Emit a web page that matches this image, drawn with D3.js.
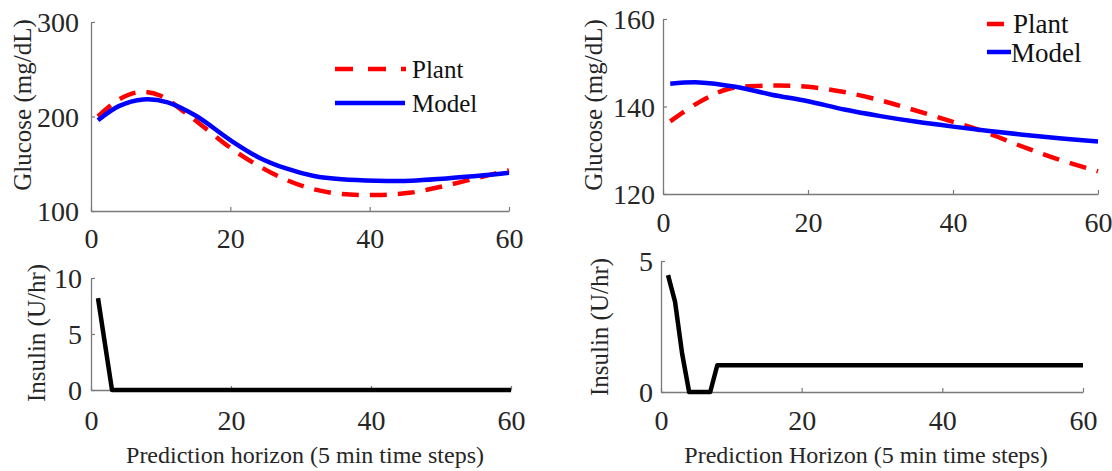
<!DOCTYPE html>
<html>
<head>
<meta charset="utf-8">
<script src="https://cdn.jsdelivr.net/npm/d3@7"></script>
<style>
  body { margin: 0; background: #fff; }
  svg text { font-family: "Liberation Serif", "Times New Roman", serif; }
</style>
</head>
<body>
<svg></svg>
<script>
// size of the page
var svgWidth = 1112;
var svgHeight = 471;
var svg = d3.select("svg")
            .attr("width", svgWidth)
            .attr("height", svgHeight);

// x ticks shared by all panels
var xTicks = [0, 20, 40, 60];

// left glucose panel
var leftPlantSteps  = [1, 4, 7, 10, 13, 16, 20, 24, 28, 32, 36, 41, 46, 51, 56, 60];
var leftPlantValues = [200, 218, 226, 222, 207, 190, 167, 148, 133, 123, 118, 117, 119.5, 127, 136, 143];
var leftModelSteps  = [1, 4, 7.5, 11, 15, 20, 24, 28, 32, 36, 41, 46, 51, 56, 60];
var leftModelValues = [196, 211, 218, 215, 201, 175, 157, 145, 137, 133.5, 132, 132, 134.5, 137.5, 140.5];
var leftGlucoseTicks = [100, 200, 300];

// right glucose panel
var rightPlantSteps  = [1, 5, 9, 15, 20, 25, 30, 34, 39, 44, 49, 54, 60];
var rightPlantValues = [136.6, 141, 144, 144.8, 144.5, 143.3, 141.4, 139.5, 137, 134.4, 131.2, 128.2, 125.2];
var rightModelSteps  = [1, 5, 10, 15, 20, 25, 30, 35, 40, 45, 50, 55, 60];
var rightModelValues = [145.2, 145.5, 144.5, 142.7, 141.2, 139.3, 137.8, 136.5, 135.4, 134.4, 133.5, 132.7, 132];
var rightGlucoseTicks = [120, 140, 160];

// insulin panels
var leftInsulinSteps  = [1, 2, 3, 60];
var leftInsulinValues = [8.2, 4.1, 0, 0];
var leftInsulinTicks  = [0, 5, 10];
var rightInsulinSteps  = [1, 2, 3, 4, 7, 8, 60];
var rightInsulinValues = [4.46, 3.44, 1.47, 0, 0, 1.02, 1.02];
var rightInsulinTicks  = [0, 5];

var legendNames = ["Plant", "Model"];

function zipPoints(steps, values) {
  return steps.map(function(s, i) { return [s, values[i]]; });
}

// draws one panel: axes, lines
function drawPanel(p) {
  var x = d3.scaleLinear().domain([0, 60]).range([p.left, p.right]);
  var y = d3.scaleLinear().domain(p.yDomain).range([p.bottom, p.top]);

  var g = svg.append("g");

  var xAxis = g.append("g")
     .attr("transform", "translate(0," + p.bottom + ")")
     .call(d3.axisBottom(x).tickValues(xTicks).tickFormat(d3.format("d"))
             .tickSizeInner(-4).tickSizeOuter(0).tickPadding(p.xPad));
  var yAxis = g.append("g")
     .attr("transform", "translate(" + p.left + ",0)")
     .call(d3.axisLeft(y).tickValues(p.yTicks).tickFormat(d3.format("d"))
             .tickSizeInner(-4).tickSizeOuter(0).tickPadding(p.yPad));

  [xAxis, yAxis].forEach(function(a) {
    a.attr("font-family", "Liberation Serif").attr("font-size", 28);
    a.select(".domain").attr("stroke", "#7a7a7a").attr("stroke-width", 1.3);
    a.selectAll(".tick line").attr("stroke", "#7a7a7a").attr("stroke-width", 1.2);
    a.selectAll(".tick text").attr("fill", "#262626");
  });
  yAxis.selectAll(".tick text").attr("dy", "0.34em");

  p.series.forEach(function(s) {
    var line = d3.line()
                 .x(function(d) { return x(d[0]); })
                 .y(function(d) { return y(d[1]); })
                 .curve(s.curve);
    g.append("path")
     .datum(zipPoints(s.steps, s.values))
     .attr("d", line)
     .attr("fill", "none")
     .attr("stroke", s.color)
     .attr("stroke-width", s.width)
     .attr("stroke-dasharray", s.dash || null)
     .attr("stroke-linejoin", "round");
  });

  // y title
  svg.append("text")
     .attr("transform", "translate(" + p.yTitleX + "," + p.yTitleY + ") rotate(-90)")
     .attr("text-anchor", "middle")
     .attr("dominant-baseline", "central")
     .attr("fill", "#262626")
     .style("font-size", "25px")
     .text(p.yTitle);

  if (p.xTitle) {
    svg.append("text")
       .attr("x", p.xTitleX)
       .attr("y", 463)
       .attr("text-anchor", "middle")
       .attr("fill", "#262626")
       .style("font-size", "24px")
       .text(p.xTitle);
  }
}

var plantColor = "#ff0000";
var modelColor = "#0000ff";
var smooth = d3.curveCatmullRom.alpha(0.5);

drawPanel({
  left: 91, right: 509, top: 22, bottom: 211,
  yDomain: [100, 300], yTicks: leftGlucoseTicks, xPad: 17, yPad: 12,
  yTitle: "Glucose (mg/dL)", yTitleX: 22, yTitleY: 105,
  series: [
    {steps: leftPlantSteps, values: leftPlantValues, color: plantColor, width: 4.5, dash: "17,11", curve: smooth},
    {steps: leftModelSteps, values: leftModelValues, color: modelColor, width: 4.5, curve: smooth}
  ]
});

drawPanel({
  left: 663, right: 1098, top: 19, bottom: 194,
  yDomain: [120, 160], yTicks: rightGlucoseTicks, xPad: 18, yPad: 8,
  yTitle: "Glucose (mg/dL)", yTitleX: 593, yTitleY: 105,
  series: [
    {steps: rightPlantSteps, values: rightPlantValues, color: plantColor, width: 4.5, dash: "17,11", curve: smooth},
    {steps: rightModelSteps, values: rightModelValues, color: modelColor, width: 4.5, curve: smooth}
  ]
});

drawPanel({
  left: 91, right: 511, top: 278, bottom: 390,
  yDomain: [0, 10], yTicks: leftInsulinTicks, xPad: 20, yPad: 9,
  yTitle: "Insulin (U/hr)", yTitleX: 36, yTitleY: 333,
  xTitle: "Prediction horizon (5 min time steps)", xTitleX: 305,
  series: [
    {steps: leftInsulinSteps, values: leftInsulinValues, color: "#000", width: 4.5, curve: d3.curveLinear}
  ]
});

drawPanel({
  left: 661, right: 1083, top: 261, bottom: 392,
  yDomain: [0, 5], yTicks: rightInsulinTicks, xPad: 18, yPad: 8,
  yTitle: "Insulin (U/hr)", yTitleX: 599, yTitleY: 327,
  xTitle: "Prediction Horizon (5 min time steps)", xTitleX: 866,
  series: [
    {steps: rightInsulinSteps, values: rightInsulinValues, color: "#000", width: 4.5, curve: d3.curveLinear}
  ]
});

// legends
function drawLegend(items) {
  items.forEach(function(it) {
    svg.append("line")
       .attr("x1", it.x1).attr("x2", it.x2)
       .attr("y1", it.y).attr("y2", it.y)
       .attr("stroke", it.color)
       .attr("stroke-width", 4.5)
       .attr("stroke-dasharray", it.dash || null);
    svg.append("text")
       .attr("x", it.tx).attr("y", it.ty)
       .attr("fill", "#111")
       .style("font-size", it.size + "px")
       .text(it.name);
  });
}

drawLegend([
  {name: legendNames[0], color: plantColor, dash: "18,15", x1: 335, x2: 406, y: 69, tx: 412, ty: 78, size: 25},
  {name: legendNames[1], color: modelColor, x1: 335, x2: 405, y: 103, tx: 412, ty: 112, size: 25}
]);
drawLegend([
  {name: legendNames[0], color: plantColor, x1: 987, x2: 1004, y: 24, tx: 1013, ty: 33, size: 27},
  {name: legendNames[1], color: modelColor, x1: 987, x2: 1011, y: 52, tx: 1011, ty: 62, size: 27}
]);
</script>
</body>
</html>
